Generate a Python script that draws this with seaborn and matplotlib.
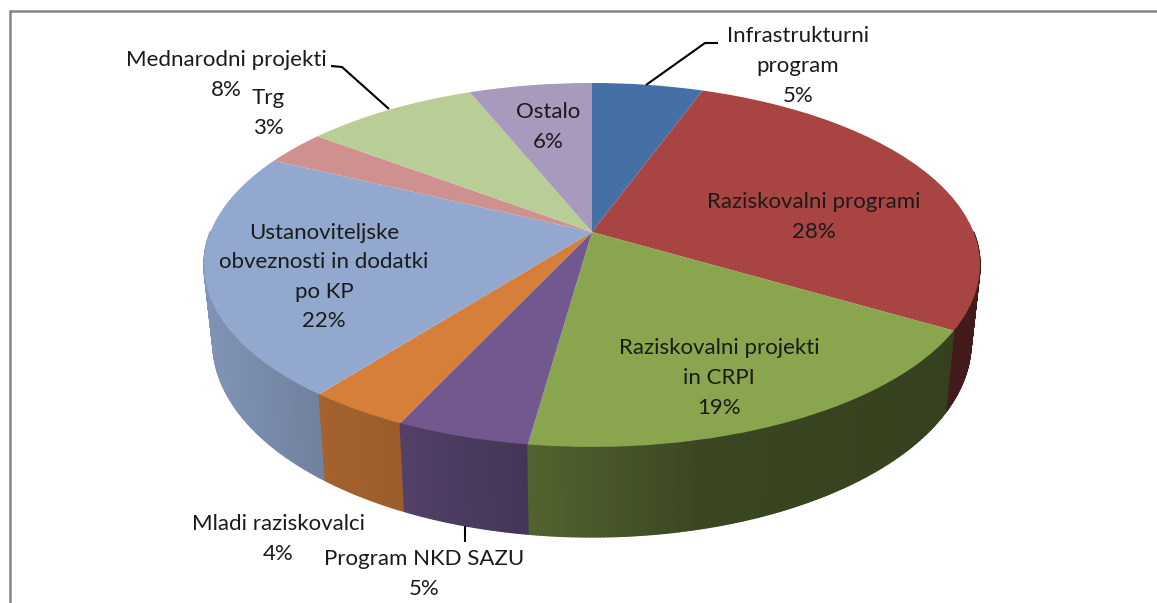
import numpy as np
import matplotlib
matplotlib.use("Agg")
import matplotlib.pyplot as plt
from matplotlib.collections import PolyCollection
from matplotlib.transforms import Transform
import seaborn as sns

# Data
categories = ["Infrastrukturni\nprogram", "Raziskovalni programi", "Raziskovalni projekti\nin CRPI",
              "Program NKD SAZU", "Mladi raziskovalci", "Ustanoviteljske\nobveznosti in dodatki\npo KP",
              "Trg", "Mednarodni projekti", "Ostalo"]
shares = [5.5, 28.0, 18.7, 4.7, 3.6, 21.7, 3.1, 8.6, 6.1]
percent_labels = ["5%", "28%", "19%", "5%", "4%", "22%", "3%", "8%", "6%"]
top_colors = ["#4470A5", "#A84543", "#89A54E", "#71588F", "#D67F3B",
              "#92A8CE", "#CF9190", "#B9CD96", "#A89ABC"]

# Style / layout (reference pixel space)
W, H = 1157, 603
CX, CY = 592, 232      # projected pie centre
A, B, K = 381.6, 176.0, 0.181
label_pos = [(798, 66), (814, 217), (719, 378), (424, 574), (278, 539),
             (324, 277), (268, 113), (226, 75), (548, 127)]
LINE = 29.5


class Tilt(Transform):
    """Perspective projection of the unit pie plane to the page."""
    input_dims = output_dims = 2

    def __init__(self, lower=False):
        super().__init__()
        self.lower = lower

    def transform_non_affine(self, xy):
        xy = np.asarray(xy, float)
        d = 1 + K * xy[:, 1]
        X = A * xy[:, 0] / d
        Y = B * xy[:, 1] / d
        if self.lower:
            X, Y = 0.977 * X, 1.07 * Y - 75
        return np.column_stack([CX + X, CY - Y])


sns.set_theme(style="white")
plt.rcParams["font.family"] = ["Lato", "DejaVu Sans"]

fig = plt.figure(figsize=(W / 100, H / 100), dpi=100, facecolor="white")
ax = fig.add_axes([0, 0, 1, 1])

wedges, _ = ax.pie(shares, colors=top_colors, startangle=90, counterclock=False,
                   radius=1, center=(0, 0), wedgeprops=dict(linewidth=0))
ax.set_aspect("auto")
ax.set_xlim(0, W)
ax.set_ylim(H, 0)
ax.axis("off")

tilt_top, tilt_low = Tilt(), Tilt(True)

# Curved side wall, built from the same shares
edges = np.cumsum([0] + shares) / 100 * 2 * np.pi
polys, cols = [], []
for i, c in enumerate(top_colors):
    n = max(int(shares[i] * 8), 4)
    th = np.linspace(edges[i], edges[i + 1], n + 1)
    for t0, t1 in zip(th[:-1], th[1:]):
        cm = (t0 + t1) / 2
        if np.cos(cm) > 0.0:
            continue
        pts = np.array([[np.sin(t0), np.cos(t0)], [np.sin(t1), np.cos(t1)]])
        up, lo = tilt_top.transform(pts), tilt_low.transform(pts)
        polys.append((cm, [up[0], up[1], lo[1], lo[0]]))
        xm = up[:, 0].mean()
        f = np.interp(xm, [205, 320, 400, 530, 700, 950], [0.88, 0.77, 0.73, 0.60, 0.43, 0.39])
        cols.append(tuple(np.array(matplotlib.colors.to_rgb(c)) * f))
order = np.argsort([-np.cos(p[0]) for p in polys])
side = PolyCollection([polys[i][1] for i in order], facecolors=[cols[i] for i in order],
                      edgecolors=[cols[i] for i in order], linewidths=1.0, zorder=1)
ax.add_collection(side)

for w in wedges:
    w.set_transform(tilt_top + ax.transData)
    w.set_zorder(2)
    w.set_clip_on(False)

# Leader lines
for xs, ys in [([646, 705, 718], [85, 43, 43]),
               ([389, 342, 331], [109, 67, 66]),
               ([465, 465], [526, 542])]:
    ax.plot(xs, ys, color="black", lw=1.5, zorder=3, solid_capstyle="butt")

# Labels
for name, pct, (x, y) in zip(categories, percent_labels, label_pos):
    lines = name.split("\n") + [pct]
    y0 = y - (len(lines) - 1) * LINE / 2
    for j, s in enumerate(lines):
        ax.text(x, y0 + j * LINE, s, ha="center", va="center", fontsize=16,
                color="#1a1a1a", zorder=4)

# Chart frame: left and top edges only reach into the crop
ax.plot([10, 10, W], [H, 10.5, 10.5], color="#868686", lw=1.8, zorder=5,
        solid_joinstyle="miter")

fig.savefig("out.png", dpi=100)
